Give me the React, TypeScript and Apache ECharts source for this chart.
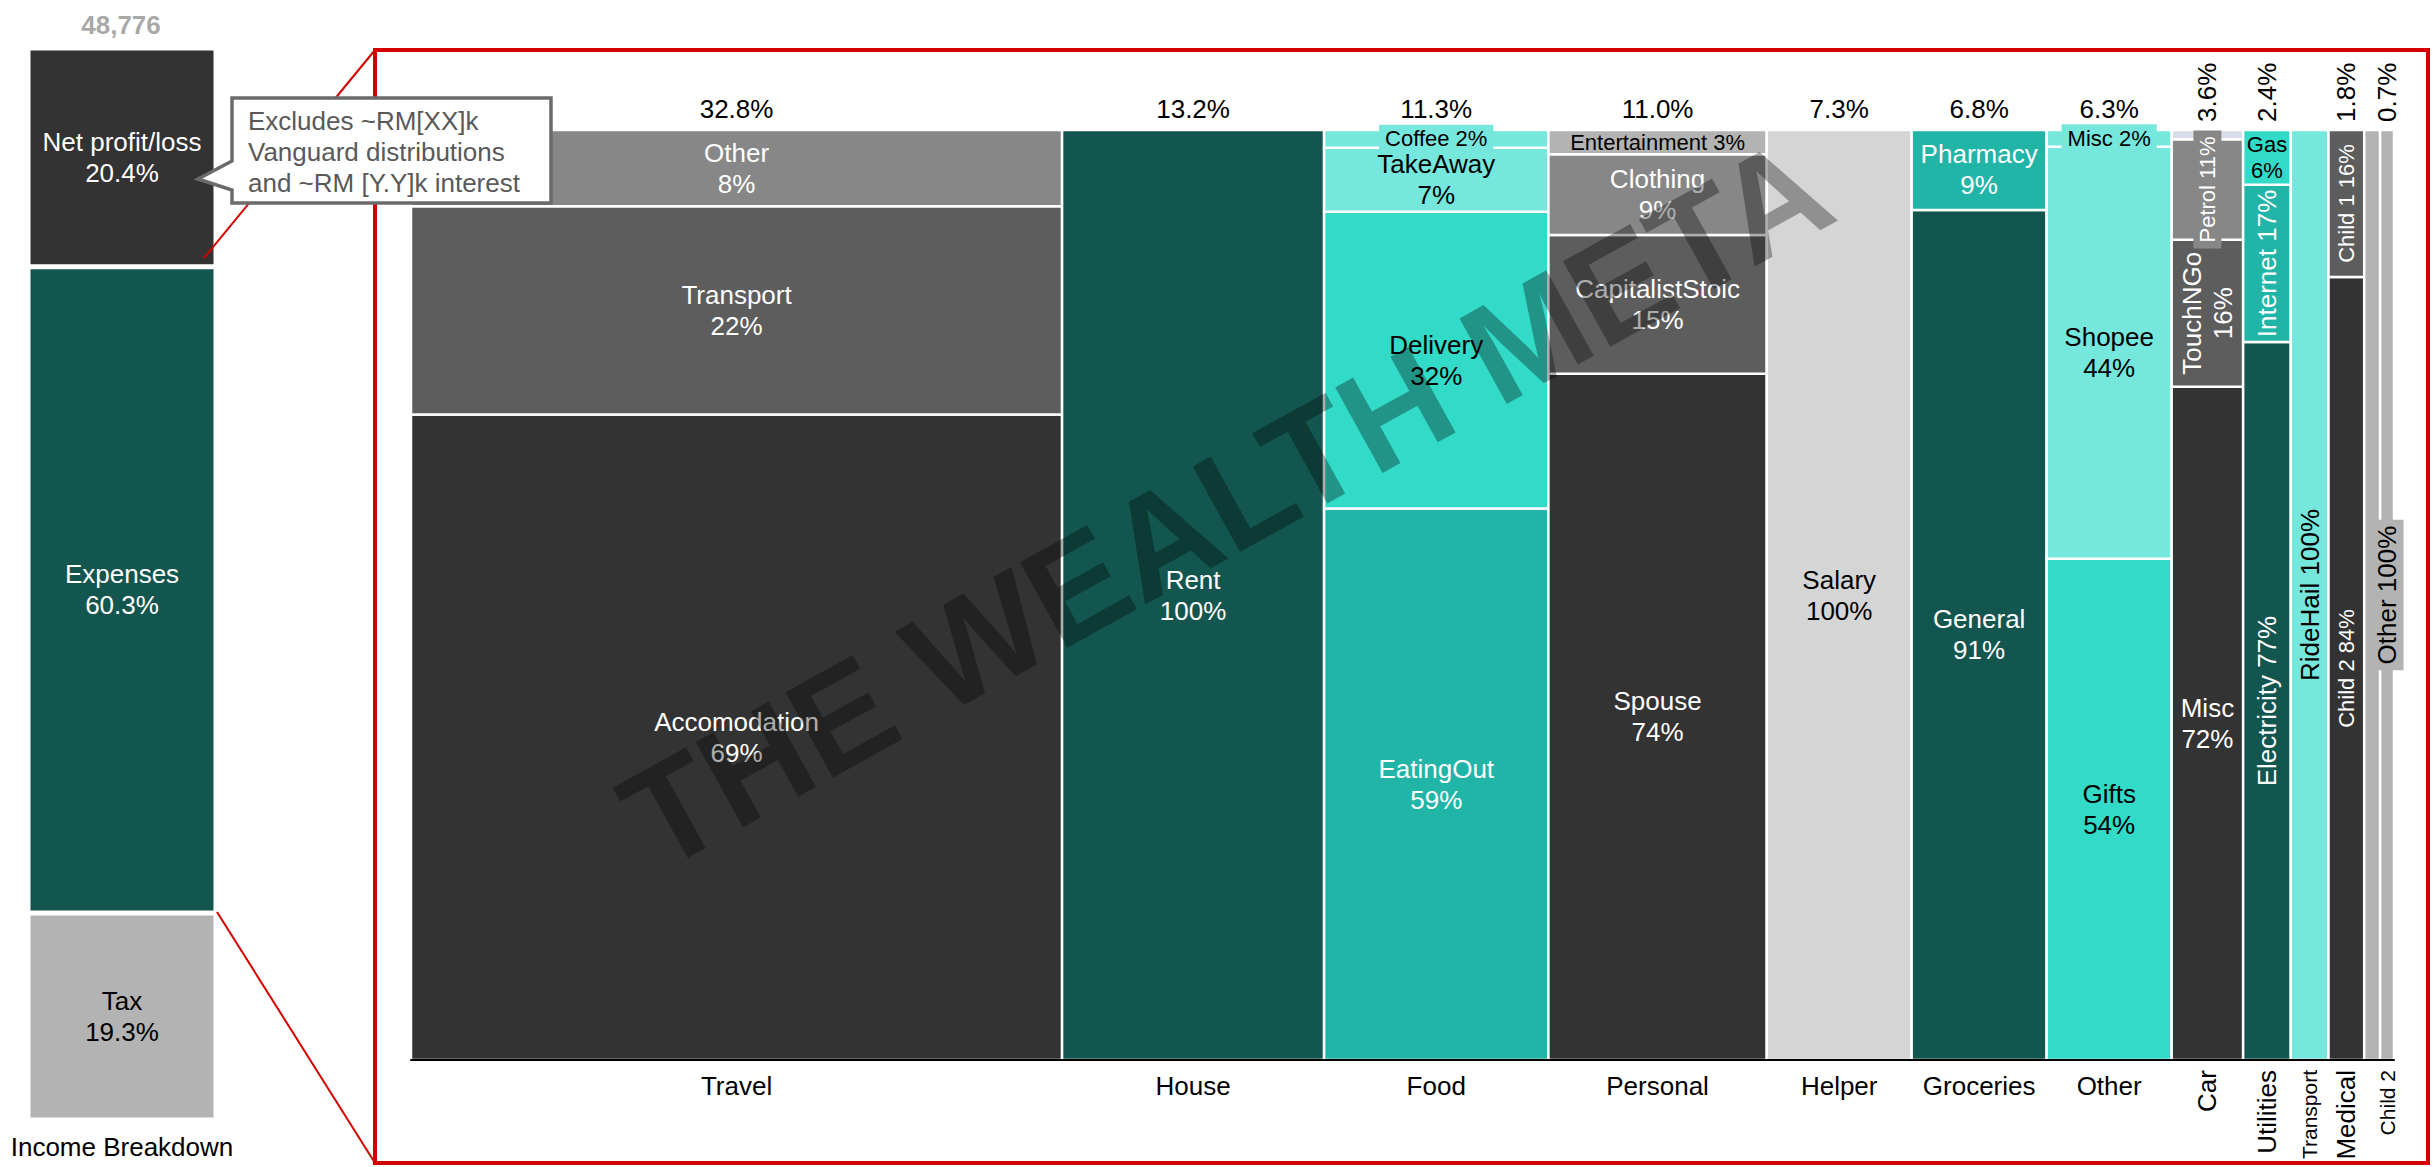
import React, { useEffect, useRef } from 'react';
import * as echarts from 'echarts';

// ---------------- data ----------------
const incomeLabels = ['Tax', 'Expenses', 'Net profit/loss'];
const incomeValues = [19.3, 60.3, 20.4];
const incomeTitle = 'Income Breakdown';
const incomeTotal = '48,776';

const categories = ['Travel', 'House', 'Food', 'Personal', 'Helper', 'Groceries', 'Other', 'Car', 'Utilities', 'Transport', 'Medical', 'Child 1', 'Child 2'];
const categoryShares = [32.8, 13.2, 11.3, 11.0, 7.3, 6.8, 6.3, 3.6, 2.4, 1.9, 1.8, 0.8, 0.7];

const travelNames = ['Accomodation', 'Transport', 'Other'];
const travelValues = [69.4, 22.4, 8.2];
const houseNames = ['Rent'];
const houseValues = [100];
const foodNames = ['EatingOut', 'Delivery', 'TakeAway', 'Coffee'];
const foodValues = [59.3, 31.9, 6.9, 1.9];
const personalNames = ['Spouse', 'CapitalistStoic', 'Clothing', 'Entertainment'];
const personalValues = [73.8, 14.9, 8.7, 2.6];
const helperNames = ['Salary'];
const helperValues = [100];
const groceriesNames = ['General', 'Pharmacy'];
const groceriesValues = [91.4, 8.6];
const otherNames = ['Gifts', 'Shopee', 'Misc'];
const otherValues = [53.9, 44.3, 1.8];
const carNames = ['Misc', 'TouchNGo', 'Petrol', 'Other'];
const carValues = [72.4, 15.8, 10.8, 1.0];
const utilitiesNames = ['Electricity', 'Internet', 'Gas'];
const utilitiesValues = [77.2, 16.9, 5.9];
const transportNames = ['RideHail'];
const transportValues = [100];
const medicalNames = ['Child 2', 'Child 1'];
const medicalValues = [84.2, 15.8];
const child1Names = ['Other'];
const child1Values = [100];
const child2Names = ['Other'];
const child2Values = [100];

const calloutLines = ['Excludes ~RM[XX]k', 'Vanguard distributions', 'and ~RM [Y.Y]k interest'];
const watermarkText = 'THE WEALTH META';

const segmentNames = [travelNames, houseNames, foodNames, personalNames, helperNames, groceriesNames, otherNames, carNames, utilitiesNames, transportNames, medicalNames, child1Names, child2Names];
const segmentValues = [travelValues, houseValues, foodValues, personalValues, helperValues, groceriesValues, otherValues, carValues, utilitiesValues, transportValues, medicalValues, child1Values, child2Values];

// ---------------- styles ----------------
const FONT = '"Liberation Sans", Arial, sans-serif';
const f = (size: number, bold = false) => `${bold ? 'bold ' : ''}${size}px ${FONT}`;

const DARK = '#333333';
const TEAL_D = '#12564F';
const G1 = '#5D5D5D';
const G2 = '#878787';
const G3 = '#B3B3B3';
const G4 = '#D5D5D5';
const T2 = '#21B5A7';
const T3 = '#32DAC8';
const T4 = '#76E7DC';
const PALE = '#D8DCE8';
const RED = '#D40000';
const lightColors = [G3, G4, T3, T4, PALE];

const segmentColors = [
  [DARK, G1, G2],
  [TEAL_D],
  [T2, T3, T4, T4],
  [DARK, G1, G2, G3],
  [G4],
  [TEAL_D, T2],
  [T3, T4, T4],
  [DARK, G1, G2, PALE],
  [TEAL_D, T2, T3],
  [T4],
  [DARK, G1],
  [G3],
  [G3],
];
const incomeColors = [G3, TEAL_D, DARK];

const labelModes: Record<string, string> = {
  'Food/Coffee': 'inline',
  'Personal/Entertainment': 'inline',
  'Other/Misc': 'inline',
  'Car/Petrol': 'rotSmall',
  'Car/TouchNGo': 'rot2',
  'Car/Other': 'none',
  'Utilities/Gas': 'small2',
  'Utilities/Internet': 'rot',
  'Utilities/Electricity': 'rot',
  'Transport/RideHail': 'rot',
  'Medical/Child 1': 'rotSmall',
  'Medical/Child 2': 'rotSmall',
  'Child 1/Other': 'none',
  'Child 2/Other': 'rot',
};
const labelBackground = ['Food/Coffee', 'Other/Misc', 'Car/Petrol', 'Child 2/Other'];
const hiddenShareLabels = ['Transport', 'Child 1'];
const hiddenCategoryLabels = ['Child 1'];
const smallAxisLabels = ['Transport', 'Child 2'];

function buildOption(): any {
  const totalShare = categoryShares.reduce((a, b) => a + b, 0);
  const segData: number[][] = [];
  const catData: number[][] = [];
  let cum = 0;
  categories.forEach((_c, ci) => {
    const vals = segmentValues[ci];
    const sum = vals.reduce((a, b) => a + b, 0);
    let acc = 0;
    vals.forEach((v, si) => {
      const y0 = (acc / sum) * 100;
      acc += v;
      const y1 = (acc / sum) * 100;
      segData.push([cum, cum + categoryShares[ci], y0, y1, ci, si]);
    });
    catData.push([cum, cum + categoryShares[ci], categoryShares[ci], ci]);
    cum += categoryShares[ci];
  });

  const renderSegment = (_params: any, api: any) => {
    const x0 = api.value(0), x1 = api.value(1), y0 = api.value(2), y1 = api.value(3);
    const ci = api.value(4), si = api.value(5);
    const a = api.coord([x0, y0]);
    const b = api.coord([x1, y1]);
    const x = a[0], y = b[1], w = b[0] - a[0], h = a[1] - b[1];
    const cat = categories[ci];
    const name = segmentNames[ci][si];
    const val = segmentValues[ci][si];
    const color = segmentColors[ci][si];
    const textColor = lightColors.includes(color) ? '#000' : '#fff';
    const key = `${cat}/${name}`;
    const mode = labelModes[key] || 'block';
    const pct = `${Math.round(val)}%`;
    const children: any[] = [
      { type: 'rect', shape: { x, y, width: w, height: h }, style: { fill: color, stroke: '#fff', lineWidth: 2.5 } },
    ];
    if (mode !== 'none') {
      let text = `${name}\n${pct}`;
      let size = 26;
      let rot = 0;
      if (mode === 'inline') { text = `${name} ${pct}`; size = 22; }
      else if (mode === 'rot') { text = `${name} ${pct}`; rot = Math.PI / 2; }
      else if (mode === 'rotSmall') { text = `${name} ${pct}`; size = 22; rot = Math.PI / 2; }
      else if (mode === 'rot2') { rot = Math.PI / 2; }
      else if (mode === 'small2') { size = 22; }
      const bg = labelBackground.includes(key);
      const style: any = {
        text,
        fill: textColor,
        font: f(size),
        align: 'center',
        verticalAlign: 'middle',
        textAlign: 'center',
        textVerticalAlign: 'middle',
        lineHeight: Math.round(size * 1.2),
      };
      if (bg) { style.backgroundColor = color; style.padding = [1, 6]; }
      children.push({ type: 'text', x: x + w / 2, y: y + h / 2, rotation: rot, z2: 10, style });
    }
    return { type: 'group', children };
  };

  const renderCategory = (_params: any, api: any) => {
    const x0 = api.value(0), x1 = api.value(1), share = api.value(2), ci = api.value(3);
    const a = api.coord([x0, 100]);
    const b = api.coord([x1, 0]);
    const cx = (a[0] + b[0]) / 2;
    const w = b[0] - a[0];
    const top = a[1];
    const bottom = b[1];
    const cat = categories[ci];
    const narrow = w < 80;
    const children: any[] = [];
    if (!hiddenShareLabels.includes(cat)) {
      const txt = `${share.toFixed(1)}%`;
      children.push(
        narrow
          ? { type: 'text', x: cx, y: top - 8, rotation: Math.PI / 2, style: { text: txt, font: f(26), fill: '#000', align: 'left', verticalAlign: 'middle', textAlign: 'left', textVerticalAlign: 'middle' } }
          : { type: 'text', x: cx, y: top - 21, style: { text: txt, font: f(26), fill: '#000', align: 'center', verticalAlign: 'middle', textAlign: 'center', textVerticalAlign: 'middle' } }
      );
    }
    if (!hiddenCategoryLabels.includes(cat)) {
      const size = smallAxisLabels.includes(cat) ? 21 : 26;
      children.push(
        narrow
          ? { type: 'text', x: cx, y: bottom + 10, rotation: Math.PI / 2, style: { text: cat, font: f(size), fill: '#000', align: 'right', verticalAlign: 'middle', textAlign: 'right', textVerticalAlign: 'middle' } }
          : { type: 'text', x: cx, y: bottom + 26, style: { text: cat, font: f(26), fill: '#000', align: 'center', verticalAlign: 'middle', textAlign: 'center', textVerticalAlign: 'middle' } }
      );
    }
    return { type: 'group', children };
  };

  const incomeSeries = incomeLabels.map((name, i) => ({
    type: 'bar',
    name,
    xAxisIndex: 0,
    yAxisIndex: 0,
    stack: 'income',
    barWidth: '100%',
    data: [incomeValues[i]],
    itemStyle: { color: incomeColors[i], borderColor: '#fff', borderWidth: 2.5 },
    label: {
      show: true,
      position: 'inside',
      formatter: (p: any) => `${p.seriesName}\n${Number(p.value).toFixed(1)}%`,
      color: lightColors.includes(incomeColors[i]) ? '#000' : '#fff',
      fontSize: 26,
      lineHeight: 31,
      fontFamily: FONT,
    },
  }));

  return {
    animation: false,
    backgroundColor: '#fff',
    textStyle: { fontFamily: FONT },
    grid: [
      { left: 28, top: 48, width: 188, height: 1072 },
      { left: 411, top: 130, width: 1983, height: 930 },
    ],
    xAxis: [
      {
        gridIndex: 0,
        type: 'category',
        data: [incomeTitle],
        axisLine: { show: false },
        axisTick: { show: false },
        axisLabel: { fontSize: 26, color: '#000', margin: 14, fontFamily: FONT },
      },
      {
        gridIndex: 1,
        type: 'value',
        min: 0,
        max: totalShare,
        z: 5,
        axisLine: { show: true, lineStyle: { color: '#000', width: 2 } },
        axisTick: { show: false },
        axisLabel: { show: false },
        splitLine: { show: false },
      },
    ],
    yAxis: [
      { gridIndex: 0, type: 'value', min: 0, max: 100, show: false },
      { gridIndex: 1, type: 'value', min: 0, max: 100, show: false },
    ],
    series: [
      ...incomeSeries,
      {
        type: 'custom',
        name: 'segments',
        xAxisIndex: 1,
        yAxisIndex: 1,
        clip: false,
        encode: { x: [0, 1], y: [2, 3] },
        renderItem: renderSegment,
        data: segData,
      },
      {
        type: 'custom',
        name: 'categories',
        xAxisIndex: 1,
        yAxisIndex: 1,
        clip: false,
        encode: { x: [0, 1] },
        renderItem: renderCategory,
        data: catData,
      },
    ],
    graphic: {
      elements: [
        {
          type: 'rect',
          z: 1,
          shape: { x: 375, y: 50, width: 2053, height: 1113 },
          style: { fill: 'none', stroke: RED, lineWidth: 4 },
        },
        {
          type: 'line',
          z: 10,
          shape: { x1: 375, y1: 50, x2: 204, y2: 258 },
          style: { stroke: RED, lineWidth: 2 },
        },
        {
          type: 'line',
          z: 10,
          shape: { x1: 217, y1: 912, x2: 375, y2: 1163 },
          style: { stroke: RED, lineWidth: 2 },
        },
        {
          type: 'polygon',
          z: 20,
          shape: { points: [[232, 98], [551, 98], [551, 203], [232, 203], [232, 190], [198, 179], [232, 161]] },
          style: { fill: '#fff', stroke: '#6B6B6B', lineWidth: 3.5 },
        },
        {
          type: 'text',
          z: 21,
          x: 248,
          y: 152,
          style: {
            text: calloutLines.join('\n'),
            font: f(26),
            fill: '#595959',
            lineHeight: 31,
            align: 'left',
            verticalAlign: 'middle',
            textAlign: 'left',
            textVerticalAlign: 'middle',
          },
        },
        {
          type: 'text',
          z: 21,
          x: 121,
          y: 25,
          style: {
            text: incomeTotal,
            font: f(26, true),
            fill: 'rgba(110,110,110,0.6)',
            shadowBlur: 10,
            shadowColor: 'rgba(100,100,100,0.9)',
            align: 'center',
            verticalAlign: 'middle',
            textAlign: 'center',
            textVerticalAlign: 'middle',
          },
        },
        {
          type: 'text',
          z: 30,
          x: 1226,
          y: 503,
          rotation: (29 * Math.PI) / 180,
          silent: true,
          style: {
            text: watermarkText,
            font: f(142, true),
            fill: 'rgba(0,0,0,0.32)',
            align: 'center',
            verticalAlign: 'middle',
            textAlign: 'center',
            textVerticalAlign: 'middle',
          },
        },
      ],
    },
  };
}

export default function App() {
  const ref = useRef<HTMLDivElement>(null);
  useEffect(() => {
    if (!ref.current) return;
    const chart = echarts.init(ref.current, undefined, { renderer: 'svg' });
    chart.setOption(buildOption());
    return () => chart.dispose();
  }, []);
  return (
    <div
      ref={ref}
      style={{ position: 'fixed', left: 0, top: 0, width: 2433, height: 1167, background: '#fff' }}
    />
  );
}
